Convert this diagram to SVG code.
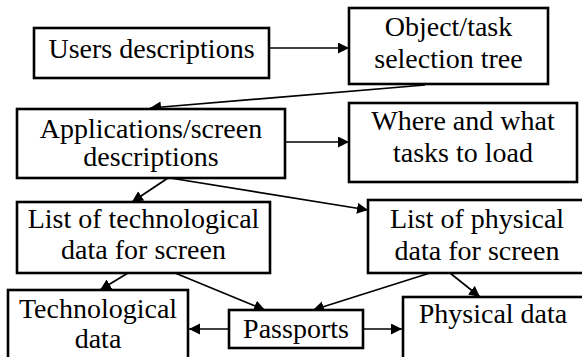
<svg xmlns="http://www.w3.org/2000/svg" width="582" height="357" viewBox="0 0 582 357">
  <style>
    .box { fill: #ffffff; stroke: #000000; stroke-width: 2.6; }
    .label { font-family: 'Liberation Serif', 'Times New Roman', Times, serif; font-size: 28px; fill: #000000; text-anchor: middle; }
    .link { fill: none; stroke: #000000; stroke-width: 1.7; marker-end: url(#head); }
  </style>
  <defs>
    <!-- solid triangular arrowhead, tip at the line end -->
    <marker id="head" markerUnits="userSpaceOnUse" markerWidth="12" markerHeight="12" refX="11" refY="5.5" orient="auto">
      <path d="M0,0 L11,5.5 L0,11 Z" fill="#000000"/>
    </marker>
  </defs>
  <rect width="582" height="357" fill="#ffffff"/>

  <g id="connectors">
    <line class="link" x1="269" y1="48" x2="349" y2="48"/>
    <line class="link" x1="425" y1="85" x2="150" y2="108"/>
    <line class="link" x1="285" y1="142" x2="349" y2="142"/>
    <line class="link" x1="168" y1="178" x2="132" y2="202"/>
    <line class="link" x1="170" y1="178" x2="368" y2="210"/>
    <line class="link" x1="128" y1="273" x2="100" y2="290"/>
    <line class="link" x1="175" y1="273" x2="265" y2="310"/>
    <line class="link" x1="430" y1="273" x2="313" y2="310"/>
    <line class="link" x1="450" y1="273" x2="480" y2="297"/>
    <line class="link" x1="229" y1="329" x2="189" y2="329"/>
    <line class="link" x1="363" y1="329" x2="402" y2="329"/>
  </g>

  <g id="users-descriptions">
    <rect class="box" x="34" y="28" width="235" height="50"/>
    <text class="label" x="151.5" y="58">Users descriptions</text>
  </g>

  <g id="object-task-tree">
    <rect class="box" x="349" y="8" width="199" height="76"/>
    <text class="label" x="448.5" y="36">Object/task</text>
    <text class="label" x="448.5" y="68">selection tree</text>
  </g>

  <g id="applications-screen">
    <rect class="box" x="17" y="109" width="268" height="69"/>
    <text class="label" x="151" y="138">Applications/screen</text>
    <text class="label" x="151" y="166">descriptions</text>
  </g>

  <g id="tasks-to-load">
    <rect class="box" x="349" y="103" width="228" height="79"/>
    <text class="label" x="463" y="130">Where and what</text>
    <text class="label" x="463" y="162">tasks to load</text>
  </g>

  <g id="technological-list">
    <rect class="box" x="17" y="202" width="253" height="71"/>
    <text class="label" x="143.5" y="228">List of technological</text>
    <text class="label" x="143.5" y="259">data for screen</text>
  </g>

  <g id="physical-list">
    <rect class="box" x="368" y="200" width="218" height="73"/>
    <text class="label" x="477" y="228">List of physical</text>
    <text class="label" x="477" y="260">data for screen</text>
  </g>

  <g id="technological-data">
    <rect class="box" x="8" y="290" width="180" height="75"/>
    <text class="label" x="98" y="318">Technological</text>
    <text class="label" x="98" y="348">data</text>
  </g>

  <g id="passports">
    <rect class="box" x="229" y="310" width="134" height="38"/>
    <text class="label" x="296" y="338">Passports</text>
  </g>

  <g id="physical-data">
    <rect class="box" x="403" y="297" width="182" height="70"/>
    <text class="label" x="493" y="323">Physical data</text>
  </g>
</svg>
